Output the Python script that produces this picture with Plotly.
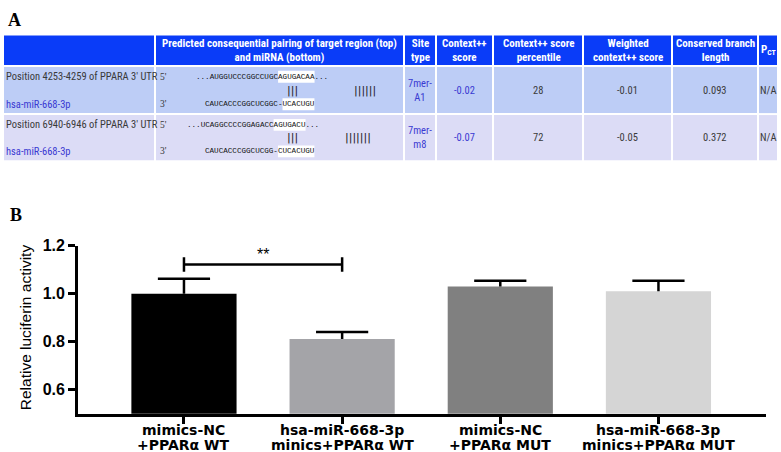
import plotly.graph_objects as go

W, H = 781, 452

# ---------------- Panel A data ----------------
header_labels = ["", "Predicted consequential pairing of target region (top)<br>and miRNA (bottom)",
                 "Site<br>type", "Context++<br>score", "Context++ score<br>percentile",
                 "Weighted<br>context++ score", "Conserved branch<br>length", "P<sub>CT</sub>"]
positions = ["Position 4253-4259 of PPARA 3' UTR", "Position 6940-6946 of PPARA 3' UTR"]
mirna = ["hsa-miR-668-3p", "hsa-miR-668-3p"]
site_type = ["7mer-<br>A1", "7mer-<br>m8"]
context_score = ["-0.02", "-0.07"]
context_pct = ["28", "72"]
weighted_score = ["-0.01", "-0.05"]
branch_length = ["0.093", "0.372"]
pct_values = ["N/A", "N/A"]
utr_seq = ["...AUGGUCCCGGCCUGCAGUGACAA...", "...UCAGGCCCCGGAGACCAGUGACU..."]
utr_hl = ["AGUGACAA", "AGUGACU"]
mir_seq = ["CAUCACCCGGCUCGGC-UCACUGU", "CAUCACCCGGCUCGG-CUCACUGU"]
mir_hl = ["UCACUGU", "CUCACUGU"]
pair_left = ["|||", "|||"]
pair_right = ["||||||", "|||||||"]

# ---------------- Panel B data ----------------
categories = ["mimics-NC<br>+PPARα WT", "hsa-miR-668-3p<br>minics+PPARα WT",
              "mimics-NC<br>+PPARα MUT", "hsa-miR-668-3p<br>minics+PPARα MUT"]
means = [1.00, 0.811, 1.03, 1.01]
errors = [0.062, 0.029, 0.024, 0.044]
bar_colors = ["#000000", "#a4a4a8", "#808080", "#d5d5d5"]
y_ticks = [0.6, 0.8, 1.0, 1.2]

# ---------------- layout constants (pixels) ----------------
COL_EDGES = [3, 155, 404, 436, 493, 583, 672, 758, 778]
ROW_EDGES = [27, 59, 108, 156]          # header, row1, row2
GAP = 1.0
HEADER_FILL = "#0a3cf8"
ROW_FILLS = ["#bdcdf6", "#dcdcf6"]
BLUE_TXT = "#3a3ad2"
GREY_TXT = "#3a3a3a"
NARROW = "Roboto Condensed, DejaVu Sans Condensed, Liberation Sans Narrow, Liberation Sans"


def px(x, y):
    return x / W, 1 - y / H


shapes = []
annotations = []


def cell_rect(x0, x1, y0, y1, color):
    a = px(x0 + GAP, y0 + GAP)
    b = px(x1 - GAP, y1 - GAP)
    shapes.append(dict(type="rect", xref="paper", yref="paper", x0=a[0], x1=b[0], y0=b[1], y1=a[1],
                       fillcolor=color, line=dict(width=0), layer="below"))


def text(x, y, s, size, color, family=NARROW, xanchor="center", **kw):
    a = px(x, y)
    annotations.append(dict(x=a[0], y=a[1], xref="paper", yref="paper", text=s, showarrow=False,
                            xanchor=xanchor, yanchor="middle",
                            font=dict(family=family, size=size, color=color), **kw))


# table cells
ncol = len(COL_EDGES) - 1
for c in range(ncol):
    cell_rect(COL_EDGES[c], COL_EDGES[c + 1], ROW_EDGES[0], ROW_EDGES[1], HEADER_FILL)
    for r in range(2):
        cell_rect(COL_EDGES[c], COL_EDGES[c + 1], ROW_EDGES[r + 1], ROW_EDGES[r + 2], ROW_FILLS[r])

# header text
hy = (ROW_EDGES[0] + ROW_EDGES[1]) / 2
for c, lab in enumerate(header_labels):
    if lab:
        text((COL_EDGES[c] + COL_EDGES[c + 1]) / 2, hy, f"<b>{lab}</b>", 11, "white")

# body text
value_cols = [site_type, context_score, context_pct, weighted_score, branch_length, pct_values]
value_colors = [BLUE_TXT, BLUE_TXT, GREY_TXT, GREY_TXT, GREY_TXT, GREY_TXT]
FS = 7.6
CW = 0.6 * FS
for r in range(2):
    top, bot = ROW_EDGES[r + 1], ROW_EDGES[r + 2]
    mid = (top + bot) / 2
    text(COL_EDGES[0] + 1, top + 11, positions[r], 10.5, GREY_TXT, xanchor="left")
    text(COL_EDGES[0] + 1, bot - 10, mirna[r], 10.5, BLUE_TXT, xanchor="left")
    for k, (vals, colr) in enumerate(zip(value_cols, value_colors)):
        c = k + 2
        text((COL_EDGES[c] + COL_EDGES[c + 1]) / 2, mid, vals[r], 10.5, colr)

    # sequence column
    y1, y2, y3 = top + 11, mid, bot - 10
    x_utr = COL_EDGES[1] + (39 if r == 0 else 30)
    x_mir = COL_EDGES[1] + 48
    text(COL_EDGES[1] + 3, y1, "5'", 9.5, GREY_TXT, family="Liberation Serif", xanchor="left")
    text(COL_EDGES[1] + 3, y3, "3'", 9.5, GREY_TXT, family="Liberation Serif", xanchor="left")
    for seq, hl, x0, yy in ((utr_seq[r], utr_hl[r], x_utr, y1), (mir_seq[r], mir_hl[r], x_mir, y3)):
        k = seq.rfind(hl)
        a0 = px(x0 + 2 + k * CW, yy - 6)
        a1 = px(x0 + 2 + (k + len(hl)) * CW, yy + 6)
        shapes.append(dict(type="rect", xref="paper", yref="paper", x0=a0[0], x1=a1[0], y0=a1[1], y1=a0[1],
                           fillcolor="white", line=dict(width=0), layer="below"))
        text(x0, yy, seq, FS, "#111111", family="Liberation Mono", xanchor="left")
    text(COL_EDGES[1] + 130, y2, pair_left[r], 11, "#222222", family="DejaVu Sans", xanchor="left")
    text(COL_EDGES[1] + (197 if r == 0 else 188), y2, pair_right[r], 11, "#222222",
         family="DejaVu Sans", xanchor="left")

# panel labels
text(14, 12, "<b>A</b>", 18, "black", family="Liberation Serif")
text(16, 211, "<b>B</b>", 18, "black", family="Liberation Serif")

# ---------------- Panel B ----------------
xs = list(range(len(categories)))
fig = go.Figure()
fig.add_trace(go.Bar(
    x=xs, y=means, width=0.665,
    marker=dict(color=bar_colors, line=dict(width=0)),
    showlegend=False, hoverinfo="skip",
))

# upward-only error bars: stem + cap
CAP = 0.165
ex, ey = [], []
for i, (m, e) in enumerate(zip(means, errors)):
    ex += [i, i, None, i - CAP, i + CAP, None]
    ey += [m, m + e, None, m + e, m + e, None]
fig.add_trace(go.Scatter(x=ex, y=ey, mode="lines", line=dict(color="black", width=2.5),
                         showlegend=False, hoverinfo="skip"))

# significance bracket between bars 0 and 1
sig_y, tick_h = 1.122, 0.03
bx = [0, 1, None, 0, 0, None, 1, 1]
by = [sig_y, sig_y, None, sig_y - tick_h, sig_y + tick_h, None, sig_y - tick_h, sig_y + tick_h]
fig.add_trace(go.Scatter(x=bx, y=by, mode="lines", line=dict(color="black", width=2.5),
                         showlegend=False, hoverinfo="skip"))
annotations.append(dict(x=0.5, y=sig_y + 0.04, xref="x", yref="y", text="**", showarrow=False,
                        xanchor="center", yanchor="middle",
                        font=dict(family="Liberation Sans", size=16, color="black")))

# x category labels (two lines each)
for i, cat in enumerate(categories):
    l1, l2 = cat.split("<br>")
    for s, yy in ((l1, 430), (l2, 445)):
        annotations.append(dict(x=i, y=1 - yy / H, xref="x", yref="paper", text=s, showarrow=False,
                                xanchor="center", yanchor="middle",
                                font=dict(family="DejaVu Sans", size=14, color="black", weight="bold")))

# y-axis title
text(25, 325, "Relative luciferin activity", 15.5, "black", family="Liberation Sans, Arial", textangle=-90)

fig.update_layout(
    width=W, height=H, margin=dict(l=0, r=0, t=0, b=0),
    paper_bgcolor="white", plot_bgcolor="white",
    xaxis=dict(domain=[78 / W, 766 / W], range=[-0.67, 3.68], showline=True, linecolor="black", linewidth=2.8,
               ticks="outside", ticklen=7, tickwidth=2.8, tickcolor="black", showgrid=False, zeroline=False,
               tickvals=xs, showticklabels=False, anchor="y"),
    yaxis=dict(domain=[1 - 413 / H, 1 - 242 / H], range=[0.5, 1.2], showline=True, linecolor="black", linewidth=2.8,
               ticks="outside", ticklen=7, tickwidth=2.8, tickcolor="black", showgrid=False, zeroline=False,
               tickvals=y_ticks, tickformat=".1f",
               tickfont=dict(family="Liberation Sans, Arial", size=16, color="black", weight="bold"), anchor="x"),
    shapes=shapes, annotations=annotations,
)

fig.write_html("out.html", config={"displayModeBar": False},
               post_script="document.body.style.margin='0';document.body.style.overflow='hidden';")
